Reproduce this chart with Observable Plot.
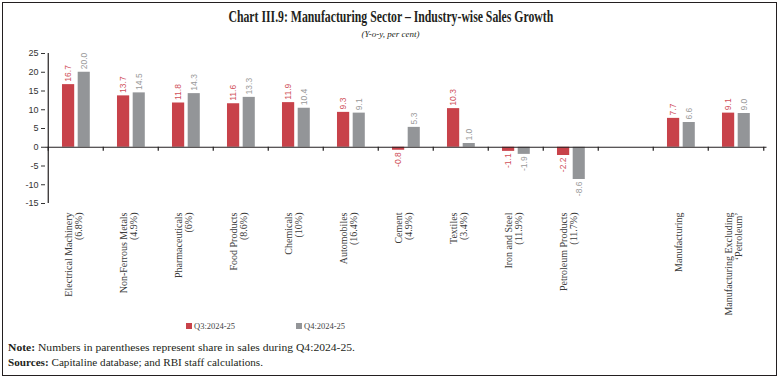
<!DOCTYPE html>
<html><head><meta charset="utf-8">
<script src="https://cdn.jsdelivr.net/npm/d3@7"></script>
<script src="https://cdn.jsdelivr.net/npm/@observablehq/plot@0.6"></script>
<style>
body{margin:0;background:#fff;}
#wrap{position:relative;width:781px;height:379px;overflow:hidden;font-family:"Liberation Serif","DejaVu Serif",serif;color:#231f20;}
#frame{position:absolute;left:2px;top:1.5px;width:773px;height:372px;border:1.5px solid #231f20;}
#title{position:absolute;top:7px;left:0;width:781px;text-align:center;white-space:nowrap;}
#title span{display:inline-block;font-weight:bold;font-size:17px;transform-origin:50% 50%;}
#sub{position:absolute;top:29px;left:0;width:781px;text-align:center;font-style:italic;font-size:9px;}
#chart{position:absolute;top:42px;left:0;}
.leg{position:absolute;top:321px;font-size:8.5px;display:flex;align-items:center;white-space:nowrap;color:#444;}
.sw{display:inline-block;width:6px;height:6px;margin-right:2px;}
.note{position:absolute;left:8px;font-size:11px;white-space:nowrap;}
</style></head>
<body>
<div id="wrap">
  <div id="frame"></div>
  <div id="title"><span id="titleText"></span></div>
  <div id="sub"></div>
  <div id="chart"></div>
  <div class="leg" id="leg0" style="left:186px"></div>
  <div class="leg" id="leg1" style="left:296px"></div>
  <div class="note" id="note" style="top:341px"></div>
  <div class="note" id="src" style="top:356px"></div>
</div>
<script>
// ---- data ----
const titleText = "Chart III.9: Manufacturing Sector \u2013 Industry-wise Sales Growth";
const subtitleText = "(Y-o-y, per cent)";
const categories = [
  "Electrical Machinery\n(6.8%)",
  "Non-Ferrous Metals\n(4.9%)",
  "Pharmaceuticals\n(6%)",
  "Food Products\n(8.6%)",
  "Chemicals\n(10%)",
  "Automobiles\n(16.4%)",
  "Cement\n(4.9%)",
  "Textiles\n(3.4%)",
  "Iron and Steel\n(11.9%)",
  "Petroleum Products\n(11.7%)",
  " ",
  "Manufacturing",
  "Manufacturing Excluding\n\u2018Petroleum\u2019"
];
const seriesNames = ["Q3:2024-25", "Q4:2024-25"];
const q3Values = [16.7, 13.7, 11.8, 11.6, 11.9, 9.3, -0.8, 10.3, -1.1, -2.2, null, 7.7, 9.1];
const q4Values = [20.0, 14.5, 14.3, 13.3, 10.4, 9.1, 5.3, 1.0, -1.9, -8.6, null, 6.6, 9.0];
const yTicks = [-15, -10, -5, 0, 5, 10, 15, 20, 25];
const noteLabel = "Note:";
const noteText = " Numbers in parentheses represent share in sales during Q4:2024-25.";
const sourceLabel = "Sources:";
const sourceText = " Capitaline database; and RBI staff calculations.";

// ---- styles ----
const red = "#C8424A", grey = "#939598";
const redLabel = "#D0505A", greyLabel = "#9a9a9a";
const ink = "#231f20";
const numFont = "'Liberation Sans Narrow','Liberation Sans',Arial,sans-serif";
const serif = "'Liberation Serif','DejaVu Serif',serif";

// ---- header text ----
const tEl = document.getElementById("titleText");
tEl.textContent = titleText;
const ctx = document.createElement("canvas").getContext("2d");
ctx.font = "bold 17px 'Liberation Serif'";
const tw = ctx.measureText(titleText).width;
tEl.style.transform = `scaleX(${325 / tw})`;
document.getElementById("sub").textContent = subtitleText;

// ---- chart ----
const W = 781, H = 280, ml = 45, mr = 14.5, mt = 11, mb = 119;
const bw = (W - ml - mr) / categories.length;
const rows = (vals) => categories.map((c, i) => ({cat: c, v: vals[i]})).filter(d => d.v != null);
const r3 = rows(q3Values), r4 = rows(q4Values);
const redL = 0.252, redR = 0.481, greyL = 0.535, greyR = 0.762;
const redDx = bw * ((redL + redR) / 2 - 0.5);
const greyDx = bw * ((greyL + greyR) / 2 - 0.5);

function labels(data, color, dx) {
  const base = {x: "cat", y: "v", text: d => d.v.toFixed(1), rotate: -90, dx, fill: color,
    fontSize: 8.5, fontFamily: numFont};
  return [
    Plot.text(data.filter(d => d.v >= 0), {...base, textAnchor: "start", dy: -3}),
    Plot.text(data.filter(d => d.v < 0), {...base, textAnchor: "end", dy: 2})
  ];
}

const chart = Plot.plot({
  width: W, height: H,
  marginLeft: ml, marginRight: mr, marginTop: mt, marginBottom: mb,
  style: {background: "transparent", overflow: "visible"},
  x: {type: "band", domain: categories, paddingInner: 0, paddingOuter: 0, label: null},
  y: {domain: [-15, 25], label: null},
  marks: [
    Plot.barY(r3, {x: "cat", y: "v", fill: red, insetLeft: bw * redL, insetRight: bw * (1 - redR)}),
    Plot.barY(r4, {x: "cat", y: "v", fill: grey, insetLeft: bw * greyL, insetRight: bw * (1 - greyR)}),
    Plot.ruleY([0], {stroke: ink, strokeWidth: 1.2}),
    Plot.ruleX([categories[0]], {x: d => d, dx: -bw / 2, stroke: ink, strokeWidth: 1.2}),
    Plot.ruleX(categories, {x: d => d, y1: 0, y2: 0, insetBottom: -4, dx: -bw / 2, stroke: ink, strokeWidth: 1.2}),
    Plot.ruleX([categories[categories.length - 1]], {x: d => d, y1: 0, y2: 0, insetBottom: -4, dx: bw / 2, stroke: ink, strokeWidth: 1.2}),
    Plot.axisY({ticks: yTicks, tickSize: 4, tickPadding: 3, tickFormat: d => String(d), label: null,
      fontSize: 9, fontFamily: numFont, color: "#333"}),
    Plot.axisX({anchor: "bottom", tickSize: 0, tickPadding: 9, tickRotate: -90, label: null,
      textAnchor: "end", lineAnchor: "middle", tickFormat: d => d, dx: -2,
      fontSize: 10, fontFamily: serif, color: "#3a3a3a"}),
    ...labels(r3, redLabel, redDx),
    ...labels(r4, greyLabel, greyDx)
  ]
});
document.getElementById("chart").appendChild(chart);

// ---- legend ----
[[seriesNames[0], red, "leg0"], [seriesNames[1], grey, "leg1"]].forEach(([n, c, id]) => {
  const el = document.getElementById(id);
  const sw = document.createElement("span"); sw.className = "sw"; sw.style.background = c;
  el.appendChild(sw);
  el.appendChild(document.createTextNode(n));
});

// ---- notes (stretched to the reference widths) ----
function note(id, lab, txt, target) {
  const el = document.getElementById(id);
  const b = document.createElement("b"); b.textContent = lab;
  el.appendChild(b); el.appendChild(document.createTextNode(txt));
  const w = el.getBoundingClientRect().width;
  el.style.transformOrigin = "0 50%";
  el.style.transform = `scaleX(${target / w})`;
}
note("note", noteLabel, noteText, 347);
note("src", sourceLabel, sourceText, 255);
</script>
</body></html>
